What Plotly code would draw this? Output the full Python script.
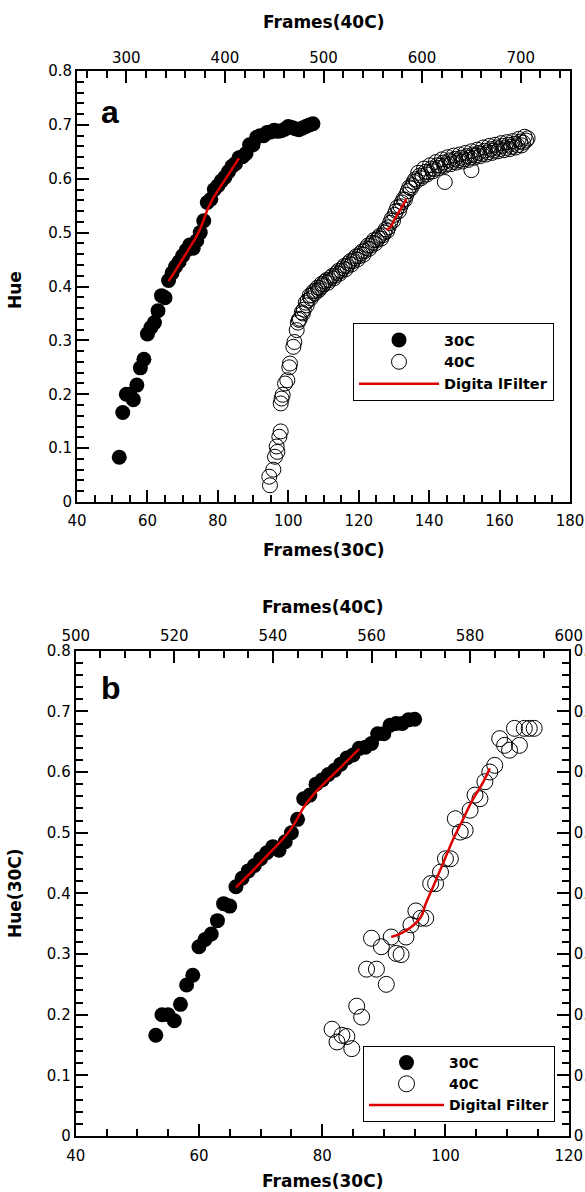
import plotly.graph_objects as go

# ---------------- data ----------------
# Panel a, 30C (bottom axis: Frames(30C))
a30_x = [52, 53, 54, 55, 56, 57, 58, 59, 60, 61, 62, 63, 64, 65, 66, 67, 68, 69, 70, 71,
         72, 73, 74, 75, 76, 77, 78, 79, 80, 81, 82, 83, 84, 85, 86, 87, 88, 89, 90, 91,
         92, 93, 94, 95, 96, 97, 98, 99, 100, 101, 102, 103, 104, 105, 106, 107]
a30_y = [0.083, 0.166, 0.200, 0.200, 0.190, 0.217, 0.249, 0.265, 0.312, 0.324, 0.333, 0.355,
         0.383, 0.379, 0.411, 0.425, 0.437, 0.446, 0.457, 0.467, 0.477, 0.471, 0.485, 0.500,
         0.522, 0.556, 0.562, 0.580, 0.587, 0.596, 0.603, 0.613, 0.623, 0.628, 0.639, 0.641,
         0.647, 0.663, 0.663, 0.677, 0.680, 0.680, 0.686, 0.687, 0.690, 0.688, 0.689, 0.692,
         0.697, 0.695, 0.693, 0.691, 0.694, 0.697, 0.700, 0.702]

# Panel a, 40C (top axis: Frames(40C)) - main reading
a40_x = [445.7, 445.0, 449.1, 450.8, 453.2, 452.5, 455.2, 456.6, 456.6, 457.5, 458.6, 461.0,
         463.3, 465.3, 466.0, 469.4, 470.5, 472.8, 474, 476, 478, 480, 482, 484, 486, 488,
         490, 492, 494, 496, 498, 500, 503, 506, 509, 512, 515, 518, 521, 524, 527, 530,
         533, 536, 539, 542, 545, 548, 551, 554, 557, 560, 563, 566, 569, 572, 575, 578,
         581, 584, 587, 590, 593, 596, 599, 602, 605, 608, 611, 614, 617, 620, 623, 623,
         626, 629, 632, 635, 638, 641, 644, 647, 650, 650, 653, 656, 659, 662, 665, 668,
         671, 674, 677, 680, 683, 686, 689, 692, 695, 698, 701, 704, 707]
a40_y = [0.031, 0.047, 0.060, 0.084, 0.093, 0.103, 0.121, 0.131, 0.183, 0.192, 0.199, 0.220,
         0.226, 0.250, 0.257, 0.288, 0.297, 0.319, 0.333, 0.340, 0.352, 0.357, 0.370, 0.374,
         0.383, 0.384, 0.391, 0.392, 0.398, 0.397, 0.405, 0.404, 0.412, 0.412, 0.420, 0.420,
         0.429, 0.429, 0.438, 0.438, 0.447, 0.447, 0.456, 0.456, 0.465, 0.466, 0.476, 0.476,
         0.486, 0.486, 0.494, 0.495, 0.506, 0.510, 0.525, 0.533, 0.547, 0.549, 0.562, 0.570,
         0.584, 0.588, 0.599, 0.611, 0.601, 0.619, 0.608, 0.625, 0.614, 0.631, 0.620, 0.636,
         0.594, 0.624, 0.640, 0.627, 0.643, 0.630, 0.645, 0.632, 0.648, 0.635, 0.616, 0.651,
         0.639, 0.654, 0.642, 0.658, 0.645, 0.661, 0.648, 0.663, 0.651, 0.666, 0.653, 0.668,
         0.655, 0.670, 0.658, 0.674, 0.662, 0.678, 0.675]
# Panel a, 40C - intermediate frames of the dense band
a40_x_mid = [475, 479, 483, 487, 491, 495, 499, 501.5, 504.5, 507.5, 510.5, 513.5, 516.5,
             519.5, 522.5, 525.5, 528.5, 531.5, 534.5, 537.5, 540.5, 543.5, 546.5, 549.5,
             552.5, 555.5, 558.5, 561.5, 564.5, 567.5, 570.5, 573.5, 576.5, 579.5, 582.5,
             585.5, 588.5, 591.5, 594.5, 597.5, 600.5, 603.5, 606.5, 609.5, 612.5, 615.5,
             618.5, 621.5, 624.5, 627.5, 630.5, 633.5, 636.5, 639.5, 642.5, 645.5, 648.5,
             651.5, 654.5, 657.5, 660.5, 663.5, 666.5, 669.5, 672.5, 675.5, 678.5, 681.5,
             684.5, 687.5, 690.5, 693.5, 696.5, 699.5, 702.5, 705.5]
a40_y_mid = [0.338, 0.350, 0.365, 0.378, 0.387, 0.393, 0.401, 0.409, 0.407, 0.417, 0.415,
             0.425, 0.424, 0.434, 0.432, 0.443, 0.441, 0.452, 0.450, 0.461, 0.459, 0.471,
             0.470, 0.481, 0.480, 0.490, 0.489, 0.500, 0.503, 0.518, 0.522, 0.540, 0.540,
             0.556, 0.561, 0.577, 0.582, 0.594, 0.596, 0.606, 0.605, 0.613, 0.612, 0.619,
             0.618, 0.625, 0.624, 0.630, 0.627, 0.634, 0.631, 0.637, 0.634, 0.639, 0.636,
             0.642, 0.639, 0.645, 0.643, 0.648, 0.646, 0.652, 0.649, 0.655, 0.652, 0.658,
             0.655, 0.661, 0.657, 0.663, 0.659, 0.665, 0.662, 0.669, 0.667, 0.671]

# Digital filter curves
filt30_x = [66, 68, 70, 72, 74, 75.5, 77, 78.5, 80, 82, 84, 86]
filt30_y = [0.410, 0.430, 0.451, 0.472, 0.494, 0.515, 0.542, 0.562, 0.578, 0.598, 0.618, 0.638]
a40_filt_x = [564, 568, 572, 576, 580, 584]
a40_filt_y = [0.505, 0.511, 0.524, 0.537, 0.549, 0.562]

# Panel b, 30C
b30_x = [53, 54, 55, 56, 57, 58, 59, 60, 61, 62, 63, 64, 65, 66, 67, 68, 69, 70, 71, 72,
         73, 74, 75, 76, 77, 78, 79, 80, 81, 82, 83, 84, 85, 86, 87, 88, 89, 90, 91, 92,
         93, 94, 95]
b30_y = [0.166, 0.200, 0.200, 0.190, 0.217, 0.249, 0.265, 0.312, 0.324, 0.333, 0.355, 0.383,
         0.379, 0.411, 0.425, 0.437, 0.446, 0.457, 0.467, 0.477, 0.471, 0.485, 0.500, 0.522,
         0.556, 0.562, 0.580, 0.587, 0.596, 0.603, 0.613, 0.623, 0.628, 0.639, 0.641, 0.647,
         0.663, 0.663, 0.677, 0.680, 0.680, 0.686, 0.687]

# Panel b, 40C (top axis)
b40_x = [552, 553, 554, 555, 556, 557, 558, 559, 560, 561, 562, 563, 564, 565, 566, 567,
         568, 569, 570, 571, 572, 573, 574, 575, 576, 577, 578, 579, 580, 581, 582, 583,
         584, 585, 586, 587, 588, 589, 590, 591, 592, 593]
b40_y = [0.176, 0.155, 0.166, 0.164, 0.144, 0.214, 0.196, 0.275, 0.326, 0.275, 0.312, 0.250,
         0.328, 0.301, 0.299, 0.328, 0.348, 0.371, 0.359, 0.359, 0.416, 0.416, 0.435, 0.457,
         0.457, 0.523, 0.501, 0.504, 0.537, 0.562, 0.556, 0.584, 0.600, 0.611, 0.655, 0.644,
         0.636, 0.672, 0.644, 0.672, 0.672, 0.672]
b40_filt_x = [564, 566, 568, 570, 571, 572.5, 574.5, 576.5, 578.5, 580.5, 582.5, 584]
b40_filt_y = [0.328, 0.334, 0.344, 0.361, 0.383, 0.411, 0.449, 0.488, 0.521, 0.554, 0.581, 0.606]

legend_a_labels = ["30C", "40C", "Digita lFilter"]
legend_b_labels = ["30C", "40C", "Digital Filter"]

# ---------------- figure ----------------
W, H = 585, 1192
RED = "#dd0000"
TICKFONT = dict(family="DejaVu Sans", size=15, color="black")
TITLEFONT = dict(family="DejaVu Sans", size=17, color="black", weight="bold")
LEGFONT_A = dict(family="DejaVu Sans", size=14.5, color="black", weight="bold")
LEGFONT_B = dict(family="DejaVu Sans", size=14, color="black", weight="bold")


def px(x):
    return x / W


def py(y):
    return 1 - y / H


fig = go.Figure()

# panel a
fig.add_trace(go.Scatter(x=a30_x, y=a30_y, mode="markers", name=legend_a_labels[0],
                         marker=dict(symbol="circle", size=15, color="black"),
                         xaxis="x", yaxis="y", legend="legend"))
fig.add_trace(go.Scatter(x=a40_x + a40_x_mid, y=a40_y + a40_y_mid, mode="markers",
                         name=legend_a_labels[1],
                         marker=dict(symbol="circle-open", size=15, color="black",
                                     line=dict(width=1, color="black")),
                         xaxis="x2", yaxis="y", legend="legend"))
fig.add_trace(go.Scatter(x=filt30_x, y=filt30_y, mode="lines", name=legend_a_labels[2],
                         line=dict(color=RED, width=2.5, shape="spline"),
                         xaxis="x", yaxis="y", legend="legend"))
fig.add_trace(go.Scatter(x=a40_filt_x, y=a40_filt_y, mode="lines", showlegend=False,
                         line=dict(color=RED, width=2.5, shape="spline"),
                         xaxis="x2", yaxis="y"))
# empty trace to register the right-hand frame axis of panel a
fig.add_trace(go.Scatter(x=[], y=[], mode="markers", showlegend=False, hoverinfo="skip",
                         xaxis="x", yaxis="y2"))

# panel b
fig.add_trace(go.Scatter(x=b30_x, y=b30_y, mode="markers", name=legend_b_labels[0],
                         marker=dict(symbol="circle", size=15, color="black"),
                         xaxis="x3", yaxis="y3", legend="legend2"))
fig.add_trace(go.Scatter(x=b40_x, y=b40_y, mode="markers", name=legend_b_labels[1],
                         marker=dict(symbol="circle-open", size=16, color="black",
                                     line=dict(width=1, color="black")),
                         xaxis="x4", yaxis="y3", legend="legend2"))
fig.add_trace(go.Scatter(x=filt30_x, y=filt30_y, mode="lines", name=legend_b_labels[2],
                         line=dict(color=RED, width=2.5, shape="spline"),
                         xaxis="x3", yaxis="y3", legend="legend2"))
fig.add_trace(go.Scatter(x=b40_filt_x, y=b40_filt_y, mode="lines", showlegend=False,
                         line=dict(color=RED, width=2.5, shape="spline"),
                         xaxis="x4", yaxis="y3"))
# empty trace to register the right-hand axis of panel b
fig.add_trace(go.Scatter(x=[], y=[], mode="markers", showlegend=False, hoverinfo="skip",
                         xaxis="x3", yaxis="y4"))


def axis(rng, dtick, mdtick, **kw):
    d = dict(range=rng, dtick=dtick, showgrid=False, zeroline=False, showline=True,
             linecolor="black", linewidth=2, ticks="inside", ticklen=12, tickwidth=1.5,
             tickcolor="black", tickfont=TICKFONT, automargin=False,
             minor=dict(ticks="inside", ticklen=7, tickwidth=1.5, tickcolor="black",
                        dtick=mdtick, showgrid=False))
    d.update(kw)
    return d


dom_a_x = [px(77), px(570)]
dom_a_y = [py(502), py(71)]
dom_b_x = [px(75.7), px(568.7)]
dom_b_y = [py(1136), py(650.7)]

fig.update_layout(
    width=W, height=H,
    margin=dict(l=0, r=0, t=0, b=0),
    paper_bgcolor="white", plot_bgcolor="white",
    xaxis=axis([40, 180], 20, 5, domain=dom_a_x, anchor="y", ticklabelstandoff=4),
    xaxis2=axis([250, 750], 100, 20, overlaying="x", side="top", anchor="y"),
    yaxis=axis([0, 0.8], 0.1, 0.02, domain=dom_a_y, anchor="x"),
    yaxis2=dict(range=[0, 0.8], overlaying="y", side="right", anchor="x", showline=True,
                linecolor="black", linewidth=2, ticks="", showticklabels=False,
                showgrid=False, zeroline=False, automargin=False),
    xaxis3=axis([40, 120], 20, 5, domain=dom_b_x, anchor="y3", ticklabelstandoff=5),
    xaxis4=axis([500, 600], 20, 5, overlaying="x3", side="top", anchor="y3",
                ticklabelstandoff=2),
    yaxis3=axis([0, 0.8], 0.1, 0.02, domain=dom_b_y, anchor="x3"),
    yaxis4=axis([0, 0.8], 0.1, 0.02, overlaying="y3", side="right", anchor="x3"),
    legend=dict(x=px(353), y=py(323), xanchor="left", yanchor="top",
                bordercolor="black", borderwidth=1, bgcolor="white",
                font=LEGFONT_A, itemwidth=80, tracegroupgap=0),
    legend2=dict(x=px(363), y=py(1046), xanchor="left", yanchor="top",
                 bordercolor="black", borderwidth=1, bgcolor="white",
                 font=LEGFONT_B, itemwidth=75, tracegroupgap=0),
    showlegend=True,
)

ann = [
    dict(text="Frames(40C)", x=px(323.5), y=py(22), font=TITLEFONT),
    dict(text="Frames(30C)", x=px(323.5), y=py(550), font=TITLEFONT),
    dict(text="Hue", x=px(15), y=py(290), font=TITLEFONT, textangle=-90),
    dict(text="a", x=px(110), y=py(112),
         font=dict(family="Liberation Sans", size=32, color="black", weight="bold")),
    dict(text="Frames(40C)", x=px(322), y=py(607), font=TITLEFONT),
    dict(text="Frames(30C)", x=px(322), y=py(1181), font=TITLEFONT),
    dict(text="Hue(30C)", x=px(15), y=py(893), font=TITLEFONT, textangle=-90),
    dict(text="b", x=px(111), y=py(688),
         font=dict(family="Liberation Sans", size=32, color="black", weight="bold")),
]
for a in ann:
    a.update(xref="paper", yref="paper", showarrow=False, xanchor="center", yanchor="middle")
fig.update_layout(annotations=ann)

fig.write_html(
    "out.html",
    config={"displayModeBar": False},
    post_script="document.body.style.margin='0';document.body.style.overflow='hidden';"
                "document.documentElement.style.overflow='hidden';",
)
